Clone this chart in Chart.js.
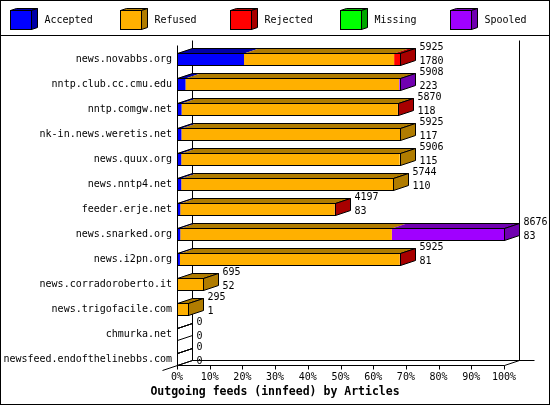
<!DOCTYPE html>
<html>
<head>
<meta charset="utf-8">
<script src="https://cdn.jsdelivr.net/npm/chart.js@4.4.0/dist/chart.umd.min.js"></script>
<style>
  html, body { margin: 0; padding: 0; background: #fff; }
  canvas { display: block; }
</style>
</head>
<body>
<canvas id="feeds" width="550" height="405"></canvas>
<script>
// outgoing feeds, each segment as % of the biggest feed (news.snarked.org)
const hosts = [
  'news.novabbs.org', 'nntp.club.cc.cmu.edu', 'nntp.comgw.net', 'nk-in.news.weretis.net',
  'news.quux.org', 'news.nntp4.net', 'feeder.erje.net', 'news.snarked.org',
  'news.i2pn.org', 'news.corradoroberto.it', 'news.trigofacile.com', 'chmurka.net',
  'newsfeed.endofthelinebbs.com'
];
const accepted = [20.5, 2.6, 1.4, 1.35, 1.3, 1.3, 1.0, 1.0, 0.9, 0.3, 0, 0, 0];
const refused  = [45.9, 65.3, 66.1, 66.95, 66.8, 64.9, 47.2, 64.7, 67.2, 7.7, 3.4, 0, 0];
const rejected = [1.9, 0, 0.2, 0, 0, 0, 0.2, 0, 0.2, 0, 0, 0, 0];
const missing  = [0, 0, 0, 0, 0, 0, 0, 0, 0, 0, 0, 0, 0];
const spooled  = [0, 0.2, 0, 0, 0, 0, 0, 34.3, 0, 0, 0, 0, 0];

// numbers printed at the end of each bar
const offeredCount  = [5925, 5908, 5870, 5925, 5906, 5744, 4197, 8676, 5925, 695, 295, 0, 0];
const acceptedCount = [1780, 223, 118, 117, 115, 110, 83, 83, 81, 52, 1, 0, 0];

const seriesNames = ['Accepted', 'Refused', 'Rejected', 'Missing', 'Spooled'];
const seriesData = [accepted, refused, rejected, missing, spooled];
const frontColors = ['#0000ff', '#ffb000', '#ff0000', '#00ff00', '#a000ff'];
const darkColors  = ['#0000a8', '#b07c00', '#a80000', '#00a800', '#7000b0'];

const MONO = '"DejaVu Sans Mono", "Liberation Mono", monospace';
const DX = 15, DY = 5;   // depth of the 3d effect
const px = v => Math.round(v) + 0.5;

function poly(ctx, pts, fill) {
  ctx.beginPath();
  ctx.moveTo(pts[0][0], pts[0][1]);
  for (let i = 1; i < pts.length; i++) ctx.lineTo(pts[i][0], pts[i][1]);
  ctx.closePath();
  if (fill) { ctx.fillStyle = fill; ctx.fill(); }
  ctx.stroke();
}

function line(ctx, x1, y1, x2, y2) {
  ctx.beginPath();
  ctx.moveTo(x1, y1);
  ctx.lineTo(x2, y2);
  ctx.stroke();
}

const threeD = {
  id: 'threeD',
  beforeDraw(chart) {
    const ctx = chart.ctx;
    ctx.save();
    ctx.fillStyle = '#fff';
    ctx.fillRect(0, 0, chart.width, chart.height);
    ctx.strokeStyle = '#000';
    ctx.lineWidth = 1;
    ctx.strokeRect(0.5, 0.5, chart.width - 1, chart.height - 1);
    line(ctx, 0, 35.5, chart.width, 35.5);

    // legend with little cubes
    ctx.font = '10px ' + MONO;
    ctx.textBaseline = 'middle';
    seriesNames.forEach((name, i) => {
      const x0 = 10.5 + 110 * i, y0 = 10.5, w = 21, h = 19, d = 6, e = 2;
      poly(ctx, [[x0, y0], [x0 + w, y0], [x0 + w + d, y0 - e], [x0 + d, y0 - e]], darkColors[i]);
      poly(ctx, [[x0 + w, y0], [x0 + w + d, y0 - e], [x0 + w + d, y0 + h - e], [x0 + w, y0 + h]], darkColors[i]);
      ctx.fillStyle = frontColors[i];
      ctx.fillRect(x0, y0, w, h);
      ctx.strokeRect(x0, y0, w, h);
      ctx.fillStyle = '#000';
      ctx.fillText(name, x0 + 34, 20);
    });
    ctx.restore();
  },
  beforeDatasetsDraw(chart) {
    const ctx = chart.ctx, xs = chart.scales.x;
    const el = chart.getDatasetMeta(0).data[hosts.length - 1];
    const left = px(xs.getPixelForValue(0)), right = px(xs.getPixelForValue(100));
    const floor = Math.round(el.y + el.height / 2) + 0.5;
    const top = Math.round(chart.chartArea.top - 1.5) + 0.5;
    ctx.save();
    ctx.strokeStyle = '#000';
    ctx.lineWidth = 1;
    line(ctx, left, top, left, floor);
    line(ctx, left + DX, top - DY, left + DX, floor - DY);
    line(ctx, right + DX, top - DY, right + DX, floor - DY);
    line(ctx, left + DX, floor - DY, right + DX + 15, floor - DY);
    line(ctx, left, floor, right, floor);
    line(ctx, left - DX, floor + DY, left + DX, floor - DY);
    line(ctx, right, floor, right + DX, floor - DY);
    xs.ticks.forEach(t => {
      const x = px(xs.getPixelForValue(t.value));
      line(ctx, x, floor, x, floor + 4);
    });
    ctx.restore();
  },
  afterDatasetsDraw(chart) {
    const ctx = chart.ctx, xs = chart.scales.x;
    const metas = chart.getSortedVisibleDatasetMetas();
    const x0 = px(xs.getPixelForValue(0));
    ctx.save();
    ctx.strokeStyle = '#000';
    ctx.lineWidth = 1;
    hosts.forEach((host, i) => {
      const first = metas[0].data[i];
      const top = Math.round(first.y - first.height / 2) + 0.5;
      const bottom = Math.round(first.y + first.height / 2) + 0.5;
      let xEnd = x0, last = -1;
      // top faces of every segment
      metas.forEach((m, k) => {
        const bar = m.data[i];
        if (seriesData[k][i] <= 0) return;
        const a = bar.base, b = bar.x;
        ctx.beginPath();
        ctx.moveTo(a, top); ctx.lineTo(b, top);
        ctx.lineTo(b + DX, top - DY); ctx.lineTo(a + DX, top - DY);
        ctx.closePath();
        ctx.fillStyle = darkColors[k];
        ctx.fill();
        xEnd = Math.max(xEnd, b);
        last = k;
      });
      const e = last < 0 ? x0 : px(xEnd);
      // outline of the top, the end face and the front
      poly(ctx, [[x0, top], [e, top], [e + DX, top - DY], [x0 + DX, top - DY]], null);
      poly(ctx, [[e, top], [e + DX, top - DY], [e + DX, bottom - DY], [e, bottom]], last < 0 ? null : darkColors[last]);
      ctx.strokeRect(x0, top, e - x0, bottom - top);

      ctx.fillStyle = '#000';
      ctx.font = '10px ' + MONO;
      ctx.textBaseline = 'middle';
      ctx.textAlign = 'left';
      ctx.fillText(String(offeredCount[i]), e + DX + 4, top - 6);
      ctx.fillText(String(acceptedCount[i]), e + DX + 4, top + 7.5);
    });
    ctx.restore();
  }
};

new Chart(document.getElementById('feeds'), {
  type: 'bar',
  data: {
    labels: hosts,
    datasets: seriesNames.map((name, k) => ({
      label: name,
      data: seriesData[k],
      backgroundColor: frontColors[k],
      borderWidth: 0,
      barPercentage: 0.48,
      categoryPercentage: 1
    }))
  },
  options: {
    responsive: false,
    animation: false,
    indexAxis: 'y',
    layout: { padding: { left: 0, right: 0, top: 46.5, bottom: 0 } },
    plugins: {
      legend: { display: false },
      tooltip: { enabled: false },
      title: {
        display: true,
        position: 'bottom',
        text: 'Outgoing feeds (innfeed) by Articles',
        color: '#000',
        font: { family: MONO, size: 11.5, weight: 'bold', lineHeight: 1.2 },
        padding: { top: 1.6, bottom: 6.1 }
      }
    },
    scales: {
      x: {
        stacked: true,
        min: 0,
        max: 100,
        grid: { display: false, drawTicks: false },
        border: { display: false },
        ticks: {
          stepSize: 10,
          autoSkip: false,
          maxRotation: 0,
          padding: 0,
          color: '#000',
          font: { family: MONO, size: 10 },
          callback: v => v + '%'
        },
        afterFit: s => { s.height = 12; }
      },
      y: {
        stacked: true,
        grid: { display: false, drawTicks: false },
        border: { display: false },
        ticks: {
          autoSkip: false,
          padding: 5,
          color: '#000',
          font: { family: MONO, size: 10 }
        },
        afterFit: s => { s.width = 177; }
      },
      // empty space on the right for the depth and the value labels
      yRight: {
        type: 'linear',
        position: 'right',
        grid: { display: false },
        border: { display: false },
        ticks: { display: false },
        afterFit: s => { s.width = 46; }
      }
    }
  },
  plugins: [threeD]
});
</script>
</body>
</html>
